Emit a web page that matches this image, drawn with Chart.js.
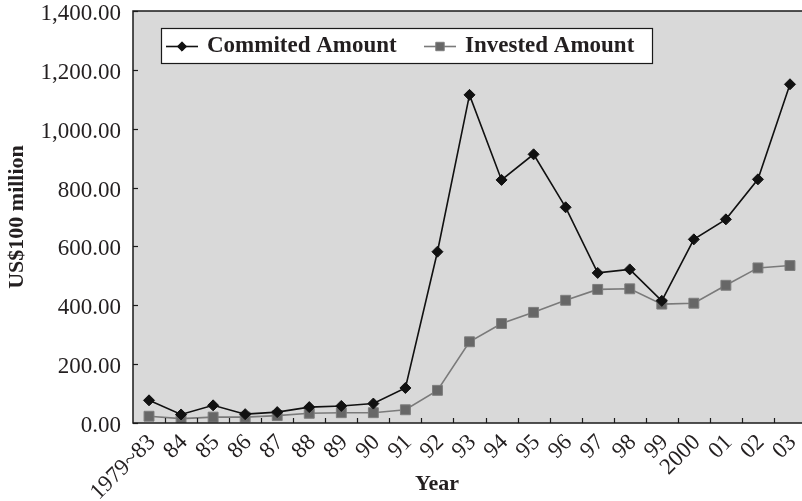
<!DOCTYPE html>
<html>
<head>
<meta charset="utf-8">
<script src="https://cdn.jsdelivr.net/npm/chart.js@4/dist/chart.umd.min.js"></script>
<style>
  html, body { margin: 0; padding: 0; background: #fff; overflow: hidden; }
  #wrap { width: 802px; height: 501px; overflow: hidden; position: relative; }
  #c { display: block; }
</style>
</head>
<body>
<div id="wrap"><canvas id="c" width="806" height="501"></canvas></div>
<script>
// Years on the horizontal axis
const years = ['1979~83', '84', '85', '86', '87', '88', '89', '90', '91', '92', '93',
               '94', '95', '96', '97', '98', '99', '2000', '01', '02', '03'];

// Commited amount, US$100 million
const committed = [77, 29, 60, 30, 37, 54, 58, 66, 119, 582, 1115,
                   826, 913, 733, 510, 522, 415, 624, 692, 828, 1151];

// Invested amount, US$100 million
const invested = [23, 15, 20, 20, 25, 33, 35, 35, 45, 111, 276,
                  338, 376, 417, 454, 456, 404, 407, 468, 527, 535];

// Vertical axis range and step
const yMin = 0;
const yMax = 1400;
const yStep = 200;

const xTitle = 'Year';
const yTitle = 'US$100 million';

const SERIF = '"Liberation Serif", "Times New Roman", serif';
const INK = '#231f20';

const fmt = v => Number(v).toLocaleString('en-US', { minimumFractionDigits: 2, maximumFractionDigits: 2 });

// Plot background, frame, inward tick marks, boxed legend and x title
const framePlugin = {
  id: 'frame',
  beforeDatasetsDraw(chart) {
    const { ctx, chartArea: a } = chart;
    ctx.save();
    ctx.fillStyle = '#d9d9d9';
    ctx.fillRect(a.left, a.top, a.right - a.left, a.bottom - a.top);
    ctx.restore();
  },
  afterDatasetsDraw(chart) {
    const { ctx, chartArea: a, scales } = chart;
    ctx.save();
    ctx.strokeStyle = '#1a1a1a';
    ctx.lineWidth = 1.5;
    ctx.strokeRect(a.left, a.top, a.right - a.left, a.bottom - a.top);

    // y tick marks pointing into the plot
    ctx.lineWidth = 1.2;
    const ys = scales.y;
    ys.ticks.forEach(t => {
      const py = Math.round(ys.getPixelForValue(t.value)) + 0.5;
      ctx.beginPath();
      ctx.moveTo(a.left, py);
      ctx.lineTo(a.left + 5, py);
      ctx.stroke();
    });
    // x tick marks between categories
    const xs = scales.x;
    const n = chart.data.labels.length;
    const step = (a.right - a.left) / n;
    for (let i = 1; i < n; i++) {
      const px = Math.round(xs.getPixelForValue(i) - step / 2) + 0.5;
      ctx.beginPath();
      ctx.moveTo(px, a.bottom);
      ctx.lineTo(px, a.bottom - 5);
      ctx.stroke();
    }

    // boxed legend
    const boxL = 161, boxT = 28, boxR = 652, boxB = 63;
    ctx.fillStyle = '#ffffff';
    ctx.fillRect(boxL, boxT, boxR - boxL, boxB - boxT);
    ctx.strokeStyle = '#1a1a1a';
    ctx.lineWidth = 1.2;
    ctx.strokeRect(boxL + 0.5, boxT + 0.5, boxR - boxL, boxB - boxT);

    const items = [
      { x: 166, ds: chart.data.datasets[0] },
      { x: 424, ds: chart.data.datasets[1] }
    ];
    const cy = (boxT + boxB) / 2 + 1;
    items.forEach(it => {
      ctx.strokeStyle = it.ds.borderColor;
      ctx.lineWidth = it.ds.borderWidth;
      ctx.beginPath();
      ctx.moveTo(it.x, cy);
      ctx.lineTo(it.x + 32, cy);
      ctx.stroke();
      ctx.fillStyle = it.ds.pointBackgroundColor;
      ctx.strokeStyle = it.ds.pointBorderColor;
      ctx.lineWidth = it.ds.pointBorderWidth;
      Chart.helpers.drawPoint(ctx, {
        pointStyle: it.ds.pointStyle,
        radius: it.ds.pointRadius * 0.85,
        rotation: 0,
        borderWidth: it.ds.pointBorderWidth
      }, it.x + 16, cy);
      ctx.font = 'bold 23px ' + SERIF;
      ctx.textBaseline = 'middle';
      ctx.textAlign = 'left';
      ctx.fillStyle = INK;
      ctx.fillText(it.ds.label, it.x + 41, cy);
    });
    ctx.restore();
  },
  afterDraw(chart) {
    const { ctx } = chart;
    ctx.save();
    ctx.font = 'bold 22px ' + SERIF;
    ctx.fillStyle = INK;
    ctx.textAlign = 'center';
    ctx.textBaseline = 'middle';
    ctx.fillText(xTitle, 437, 484);
    ctx.restore();
  }
};

const chart = new Chart(document.getElementById('c'), {
  type: 'line',
  data: {
    labels: years,
    datasets: [
      {
        label: 'Commited Amount',
        data: committed,
        borderColor: '#111111',
        borderWidth: 1.6,
        pointStyle: 'rectRot',
        pointRadius: 5.5,
        pointBackgroundColor: '#111111',
        pointBorderColor: '#111111',
        pointBorderWidth: 1,
        tension: 0
      },
      {
        label: 'Invested Amount',
        data: invested,
        borderColor: '#7a7a7a',
        borderWidth: 1.6,
        pointStyle: 'rect',
        pointRadius: 7,
        pointBackgroundColor: '#676767',
        pointBorderColor: '#7d7d7d',
        pointBorderWidth: 1,
        tension: 0
      }
    ]
  },
  options: {
    responsive: false,
    animation: false,
    devicePixelRatio: 1,
    layout: { autoPadding: false, padding: { top: 11, right: 0, left: 0, bottom: 0 } },
    plugins: { legend: { display: false }, tooltip: { enabled: false } },
    scales: {
      x: {
        offset: true,
        grid: { display: false, drawTicks: false },
        border: { display: false },
        ticks: {
          autoSkip: false,
          minRotation: 45,
          maxRotation: 45,
          padding: 6,
          labelOffset: 3,
          color: INK,
          font: { family: SERIF, size: 23 }
        },
        afterFit(s) {
          s.height = 78;
          s.paddingLeft = 0;
          s.paddingRight = 0;
        }
      },
      y: {
        min: yMin,
        max: yMax,
        grid: { display: false, drawTicks: false },
        border: { display: false },
        ticks: {
          stepSize: yStep,
          padding: 12,
          labelOffset: 3,
          color: INK,
          font: { family: SERIF, size: 23 },
          callback: v => fmt(v)
        },
        title: {
          display: true,
          text: yTitle,
          color: INK,
          font: { family: SERIF, size: 22, weight: 'bold' },
          padding: { top: 4, bottom: 0 }
        },
        afterFit(s) {
          s.width = 133;
          s.paddingTop = 0;
          s.paddingBottom = 0;
        }
      }
    }
  },
  plugins: [framePlugin]
});
</script>
</body>
</html>
